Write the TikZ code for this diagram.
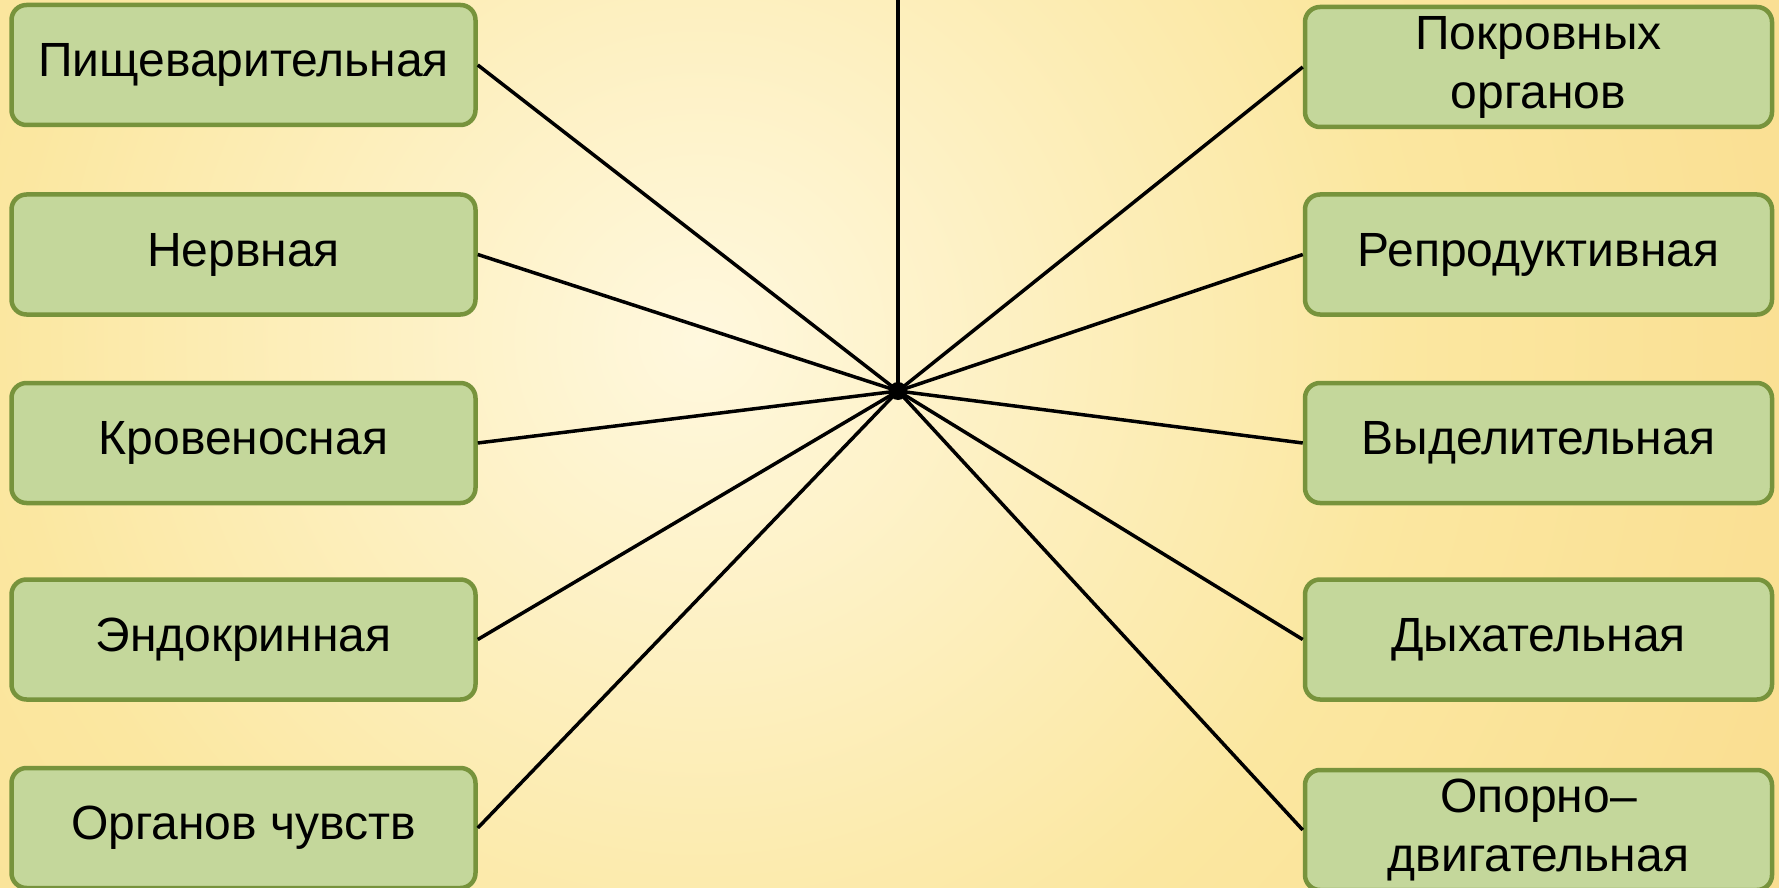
\documentclass[tikz,border=0pt]{standalone}
\usepackage{fontspec}
\setmainfont{Liberation Sans}
\definecolor{bgA}{HTML}{FFF8DE}
\definecolor{bgB}{HTML}{FBE7A0}
\definecolor{bgC}{HTML}{F9DA8A}
\definecolor{bgD}{HTML}{F6CC6E}
\definecolor{bgE}{HTML}{F3C360}
\definecolor{boxfill}{HTML}{C4D79B}
\definecolor{boxdraw}{HTML}{77933C}
\pgfdeclareradialshading{bgshade}{\pgfpoint{0bp}{0bp}}{color(0bp)=(bgA); color(14bp)=(bgB); color(28bp)=(bgC); color(42bp)=(bgD); color(50bp)=(bgE)}
\tikzset{
  sysbox/.style={draw=boxdraw, fill=boxfill, line width=2.25pt, rounded corners=7.5pt,
    minimum height=60pt, inner sep=2pt, align=center,
    font=\fontsize{24}{29.5}\selectfont},
  leftbox/.style={sysbox, minimum width=232pt},
  rightbox/.style={sysbox, minimum width=233.5pt},
  link/.style={draw=black, line width=1.75pt}
}
\begin{document}
\begin{tikzpicture}[x=0.5pt,y=-0.5pt]
\useasboundingbox (0,0) rectangle (1779,888);
\begin{scope}
\clip (0,0) rectangle (1779,888);
\shade[shading=bgshade] (700-1250,340-1250) rectangle (700+1250,340+1250);
\end{scope}
\coordinate (hub) at (898,391);
\coordinate (top) at (898,0);
\node[leftbox] (l1) at (243.5,65) {Пищеварительная};
\node[leftbox] (l2) at (243.5,254.5) {Нервная};
\node[leftbox] (l3) at (243.5,443) {Кровеносная};
\node[leftbox] (l4) at (243.5,639.5) {Эндокринная};
\node[leftbox] (l5) at (243.5,828) {Органов чувств};
\node[rightbox] (r1) at (1538.5,67) {Покровных\\органов};
\node[rightbox] (r2) at (1538.5,254.5) {Репродуктивная};
\node[rightbox] (r3) at (1538.5,443) {Выделительная};
\node[rightbox] (r4) at (1538.5,639.5) {Дыхательная};
\node[rightbox] (r5) at (1538.5,830) {Опорно–\\двигательная};
\draw[link] (hub) -- (top);
\foreach \n in {l1,l2,l3,l4,l5} \draw[link] (hub) -- (\n.east);
\foreach \n in {r1,r2,r3,r4,r5} \draw[link] (hub) -- (\n.west);
\fill[black] (hub) circle (4.5pt);
\end{tikzpicture}
\end{document}
